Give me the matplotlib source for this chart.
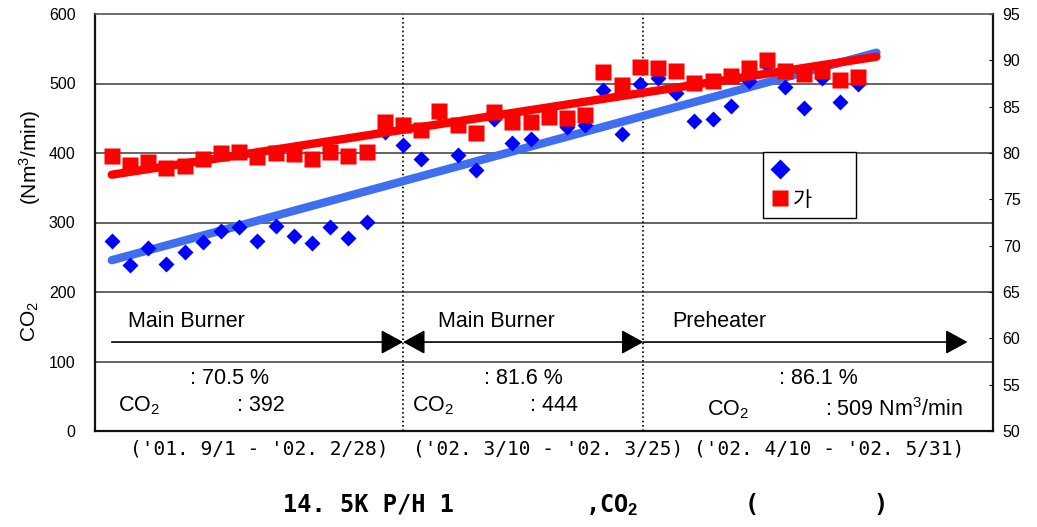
"""
Boiler efficiency / CO2 flow chart (14.5K P/H No.1), recreated from a scanned figure.
Blue diamonds = efficiency (right axis, %), red squares = CO2 flow (left axis, Nm3/min).
"""
import numpy as np
import matplotlib
matplotlib.use('Agg')
import matplotlib.pyplot as plt
from matplotlib.lines import Line2D

plt.rcParams['font.family'] = ['Liberation Sans', 'Noto Sans CJK KR', 'DejaVu Sans']
plt.rcParams['mathtext.fontset'] = 'custom'
plt.rcParams['mathtext.rm'] = 'Liberation Sans'
plt.rcParams['mathtext.it'] = 'Liberation Sans:italic'
plt.rcParams['mathtext.bf'] = 'Liberation Sans:bold'

# ===========================================================
# Data (one value per sample)
# ===========================================================
co2_flow = [395, 383, 387, 378, 382, 392, 400, 402, 394, 400, 398, 392, 402, 395, 402,
            444, 440, 433, 460, 440, 429, 459, 445, 444, 452, 451, 454, 517, 498,
            524, 523, 518, 501, 503, 511, 523, 534, 518, 513, 518, 505, 509]
efficiency = [70.5, 67.9, 69.7, 68.0, 69.3, 70.4, 71.6, 72.0, 70.5, 72.1, 71.0, 70.3, 72.0, 70.8, 72.6,
              82.3, 80.9, 79.4, 84.3, 79.8, 78.2, 83.7, 81.1, 81.5, 84.0, 82.8, 83.0, 86.8, 82.1,
              87.4, 88.1, 86.5, 83.4, 83.7, 85.1, 87.8, 89.5, 87.1, 84.9, 88.1, 85.5, 87.5]

period_breaks = [16.0, 29.2]
period_names = ['Main Burner', 'Main Burner', 'Preheater']
eff_labels = [': 70.5 %', ': 81.6 %', ': 86.1 %']
co2_labels = [': 392', ': 444', ': 509 Nm$^3$/min']
date_labels = ["('01. 9/1 - '02. 2/28)", "('02. 3/10 - '02. 3/25)", "('02. 4/10 - '02. 5/31)"]
legend_labels = ['            ', '가']

left_ticks = [0, 100, 200, 300, 400, 500, 600]
right_ticks = [50, 55, 60, 65, 70, 75, 80, 85, 90, 95]

W, H = 1037, 527


def fx(px):
    return px / W


def fy(py):
    return 1 - py / H


# ===========================================================
# Figure
# ===========================================================
fig = plt.figure(figsize=(W / 100, H / 100), dpi=100)
ax = fig.add_axes([fx(95), fy(431), fx(993) - fx(95), fy(14) - fy(431)])   # efficiency (right)
ax2 = ax.twinx()                                                          # CO2 flow (left)
ax.yaxis.tick_right()
ax2.yaxis.tick_left()

idx = np.arange(len(co2_flow))
xs = np.array([0, len(co2_flow)])

ax.set_xlim(-0.92, 48.4)
ax.set_ylim(right_ticks[0], right_ticks[-1])
ax2.set_ylim(left_ticks[0], left_ticks[-1])
ax.set_yticks(right_ticks)
ax2.set_yticks(left_ticks)
ax.set_xticks([])

# gridlines at the left-axis ticks, drawn on the bottom axes
for v in left_ticks[1:-1]:
    ax.axhline(right_ticks[0] + v * (right_ticks[-1] - right_ticks[0]) / left_ticks[-1],
               color='#3a3a3a', lw=1.1, zorder=0)
for b in period_breaks:
    ax.axvline(b, color='k', ls=(0, (1, 1.6)), lw=1.2, zorder=1)

# efficiency series + linear trend
fit_e = np.polyfit(idx, efficiency, 1)
ax.plot(xs, np.polyval(fit_e, xs), color='#3f6ef0', lw=6, solid_capstyle='round', zorder=2)
ax.plot(idx, efficiency, 'D', color='#0000ff', mec='none', ms=8.2, zorder=3)

# CO2 series + linear trend
fit_c = np.polyfit(idx, co2_flow, 1)
ax2.plot(xs, np.polyval(fit_c, xs), color='#ff0000', lw=6, solid_capstyle='round', zorder=2)
ax2.plot(idx, co2_flow, 's', color='#ff0000', mec='none', ms=11.5, zorder=3)

# spines / ticks
for s in ax.spines.values():
    s.set_visible(False)
for k in ['left', 'bottom', 'right']:
    ax2.spines[k].set_linewidth(1.6)
    ax2.spines[k].set_color('#111111')
ax2.spines['top'].set_color('#555555')
ax2.spines['top'].set_linewidth(1.2)
ax2.tick_params(axis='y', length=0, pad=14, labelsize=11.5)
ax.tick_params(axis='y', direction='in', length=3, pad=7, labelsize=11.5)

# period arrows and annotations
arrow = dict(color='k', lw=1.2, shrinkA=0, shrinkB=0, mutation_scale=34)
ax2.annotate('', xy=(period_breaks[0], 128), xytext=(0, 128),
             arrowprops=dict(arrowstyle='-|>,head_length=0.4,head_width=0.22', **arrow))
ax2.annotate('', xy=(period_breaks[1], 128), xytext=(period_breaks[0], 128),
             arrowprops=dict(arrowstyle='<|-|>,head_length=0.4,head_width=0.22', **arrow))
ax2.annotate('', xy=(47.0, 128), xytext=(period_breaks[1], 128),
             arrowprops=dict(arrowstyle='-|>,head_length=0.4,head_width=0.22', **arrow))

name_x = [0.9, 17.9, 30.8]
eff_x = [4.3, 20.45, 36.65]
co2_name_x = [0.35, 16.5, 32.7]
co2_val_x = [6.88, 22.97, 39.2]
co2_y = [37, 37, 31]
for i in range(3):
    ax2.text(name_x[i], 158, period_names[i], fontsize=15.5, va='center')
    ax2.text(eff_x[i], 76, eff_labels[i], fontsize=15.5, va='center')
    ax2.text(co2_name_x[i], co2_y[i], 'CO$_2$', fontsize=15.5, va='center')
    ax2.text(co2_val_x[i], co2_y[i], co2_labels[i], fontsize=15.5, va='center')

# legend
handles = [Line2D([], [], marker='D', color='#0000ff', mec='none', ls='none', ms=10),
           Line2D([], [], marker='s', color='#ff0000', mec='none', ls='none', ms=12)]
leg = ax2.legend(handles, legend_labels, loc='upper left',
                 bbox_to_anchor=((763 - 95) / 898, (431 - 152) / 417), borderaxespad=0,
                 fancybox=False, edgecolor='k', framealpha=1,
                 prop={'family': ['Noto Sans CJK KR'], 'size': 15},
                 handlelength=0.9, handletextpad=0.2, labelspacing=0.35, borderpad=0.35)
leg.get_frame().set_linewidth(1.0)

# axis titles
fig.text(fx(30), fy(157), '(Nm$^3$/min)', rotation=90, ha='center', va='center', fontsize=15)
fig.text(fx(30), fy(322), 'CO$_2$', rotation=90, ha='center', va='center', fontsize=15)

# date ranges under the axis
for x0, lab in zip([130, 413, 694], date_labels):
    fig.text(fx(x0), fy(449), lab, family='DejaVu Sans Mono', fontsize=14, va='center')

# caption
for x0, lab in zip([283, 585, 745, 873], ['14. 5K P/H 1', ',CO$_\\mathbf{2}$', '(', ')']):
    fig.text(fx(x0), fy(505), lab, family='DejaVu Sans Mono', weight='bold', fontsize=17, va='center')

fig.savefig('out.png', dpi=100)
